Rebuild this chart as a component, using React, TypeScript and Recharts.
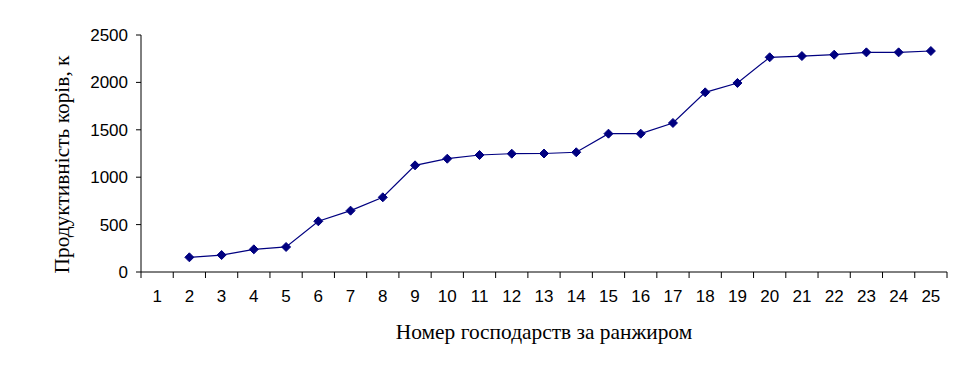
import React from "react";
import { LineChart, Line, XAxis, YAxis, Label } from "recharts";

const categories = [1, 2, 3, 4, 5, 6, 7, 8, 9, 10, 11, 12, 13, 14, 15, 16, 17, 18, 19, 20, 21, 22, 23, 24, 25];
const productivity: (number | null)[] = [
  null, 155, 179, 239, 264, 535, 647, 788, 1125, 1195, 1234, 1248, 1250,
  1263, 1459, 1459, 1572, 1895, 1994, 2265, 2278, 2292, 2317, 2317, 2331,
];
const yTicks = [0, 500, 1000, 1500, 2000, 2500];
const boundaryTicks = [...categories.map((c) => c - 0.5), categories[categories.length - 1] + 0.5];

const yTitle = "Продуктивність корів, к";
const xTitle = "Номер господарств за ранжиром";

const data = categories.map((c, i) => ({ n: c, v: productivity[i] }));

const COLOR = "#000080";
const SANS = "'Liberation Sans', Arial, sans-serif";
const SERIF = "'Liberation Serif', 'Times New Roman', serif";

const Diamond = (props: any) => {
  const { cx, cy, value } = props;
  if (value == null || cx == null || cy == null) return <g />;
  const r = 4.5;
  return (
    <polygon
      points={`${cx},${cy - r} ${cx + r},${cy} ${cx},${cy + r} ${cx - r},${cy}`}
      fill={COLOR}
      stroke={COLOR}
      strokeWidth={1}
    />
  );
};

export default function App() {
  const domain: [number, number] = [boundaryTicks[0], boundaryTicks[boundaryTicks.length - 1]];
  return (
    <div style={{ position: "absolute", left: 0, top: 0, background: "#fff" }}>
      <LineChart width={967} height={373} data={data} margin={{ top: 35, right: 20, left: 0, bottom: 0 }}>
        <XAxis
          xAxisId="b"
          dataKey="n"
          type="number"
          domain={domain}
          ticks={boundaryTicks}
          interval={0}
          tickFormatter={() => ""}
          tickSize={6}
          height={1}
          axisLine={{ stroke: "#000", strokeWidth: 1 }}
          tickLine={{ stroke: "#000" }}
        />
        <XAxis
          xAxisId="l"
          dataKey="n"
          type="number"
          domain={domain}
          ticks={categories}
          interval={0}
          axisLine={false}
          tickLine={false}
          tickSize={6}
          tickMargin={11}
          height={100}
          tick={{ fill: "#000", fontSize: 17, fontFamily: SANS }}
        >
          <Label
            value={xTitle}
            position="insideBottom"
            offset={34}
            style={{ fill: "#000", fontSize: 21.4, fontFamily: SERIF }}
          />
        </XAxis>
        <YAxis
          domain={[0, 2500]}
          ticks={yTicks}
          interval={0}
          width={141}
          tickSize={5}
          tickMargin={8}
          axisLine={{ stroke: "#000" }}
          tickLine={{ stroke: "#000" }}
          tick={{ fill: "#000", fontSize: 17, fontFamily: SANS }}
          label={{
            content: (p: any) => {
              const vb = p.viewBox || {};
              const cx = 62;
              const cy = vb.y + vb.height / 2 + 11;
              return (
                <text
                  x={cx}
                  y={cy}
                  transform={`rotate(-90, ${cx}, ${cy})`}
                  textAnchor="middle"
                  dominantBaseline="central"
                  style={{ fill: "#000", fontSize: 21.4, fontFamily: SERIF }}
                >
                  {yTitle}
                </text>
              );
            },
          }}
        />
        <Line
          xAxisId="l"
          dataKey="v"
          stroke={COLOR}
          strokeWidth={1.2}
          dot={<Diamond />}
          activeDot={false}
          isAnimationActive={false}
        />
      </LineChart>
    </div>
  );
}
